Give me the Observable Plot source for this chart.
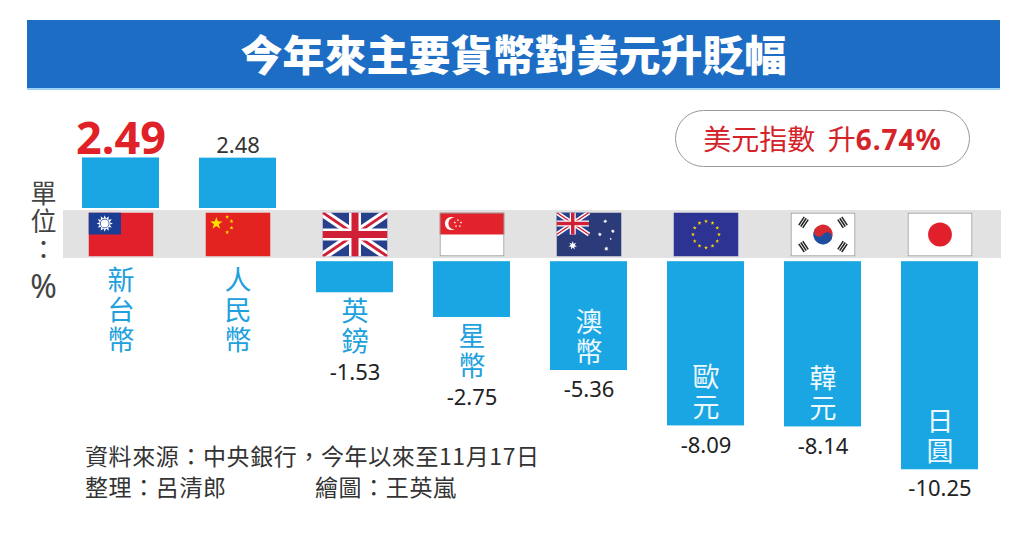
<!DOCTYPE html>
<html>
<head>
<meta charset="utf-8">
<script src="https://cdn.jsdelivr.net/npm/d3@7"></script>
<script src="https://cdn.jsdelivr.net/npm/@observablehq/plot@0.6"></script>
<style>
  body { margin: 0; background: #fff; font-family: "Noto Sans CJK TC", "Noto Sans", sans-serif; }
  #wrap { position: relative; width: 1024px; height: 543px; overflow: hidden; background: #fff; }
  #chart { position: absolute; left: 0; top: 0; }
  #title { position: absolute; left: 27px; top: 20px; width: 973px; height: 68px; background: #1c6dc3;
    color: #fff; font-size: 42px; font-weight: 900; text-align: center; line-height: 66px;
    border-bottom: 2px solid #9ad3f5; }
  #unit { position: absolute; left: 27px; top: 180px; width: 32px; color: #444; font-size: 26px;
    writing-mode: vertical-rl; text-orientation: upright; letter-spacing: 2px; line-height: 32px; }
  #unit .pct { font-size: 32px; font-family: "Noto Sans", sans-serif; letter-spacing: 0; }
  #badge { position: absolute; left: 675px; top: 110px; width: 293px; height: 55px; border: 1.5px solid #9a9a9a;
    border-radius: 29px; color: #d5232a; font-size: 28px; line-height: 55px; text-align: center; }
  #badge b { font-family: "Noto Sans", sans-serif; font-weight: 700; letter-spacing: 1px; }
  #note { position: absolute; left: 85px; top: 440px; color: #333; font-size: 23px; line-height: 31px; letter-spacing: 0.6px; }
  #note span.r { position: absolute; left: 230px; }
</style>
</head>
<body>
<div id="wrap">
  <div id="chart"></div>
  <div id="title">今年來主要貨幣對美元升貶幅</div>
  <div id="unit">單位：<span class="pct">%</span></div>
  <div id="badge">美元指數&nbsp;&nbsp;升<b>6.74%</b></div>
  <div id="note">資料來源：中央銀行，今年以來至11月17日<br>整理：呂清郎<span class="r">繪圖：王英嵐</span></div>
</div>
<script>
// ---- data ----
const currencies = ["新台幣", "人民幣", "英鎊", "星幣", "澳幣", "歐元", "韓元", "日圓"];
const changes = [2.49, 2.48, -1.53, -2.75, -5.36, -8.09, -8.14, -10.25];
const flagCodes = ["tw", "cn", "gb", "sg", "au", "eu", "kr", "jp"];
const highlight = "新台幣";

const data = currencies.map((name, i) => ({ name, v: changes[i], flag: flagCodes[i] }));

// ---- layout constants (value units of the y scale) ----
const BAND_TOP = -0.1, BAND_BOTTOM = -2.46, NEG_BASE = -2.62, FLAG_Y = -1.28;
const BAR = "#19a6e3", LABEL_BLUE = "#20a0dc";

// ---- flag drawings ----
function starPts(cx, cy, r, n = 5, ratio = 0.4, rot = -90) {
  const p = [];
  for (let k = 0; k < n * 2; k++) {
    const rr = k % 2 ? r * ratio : r;
    const a = (rot + k * 180 / n) * Math.PI / 180;
    p.push((cx + rr * Math.cos(a)).toFixed(2) + "," + (cy + rr * Math.sin(a)).toFixed(2));
  }
  return p.join(" ");
}
function star(cx, cy, r, fill, n = 5, ratio = 0.4) {
  return `<polygon points="${starPts(cx, cy, r, n, ratio)}" fill="${fill}"/>`;
}
const jack = `<rect width="60" height="40" fill="#27408b"/>
<path d="M0,0L60,40M60,0L0,40" stroke="#fff" stroke-width="8"/>
<path d="M0,0L60,40M60,0L0,40" stroke="#cf2038" stroke-width="2.6"/>
<path d="M30,0V40M0,20H60" stroke="#fff" stroke-width="11"/>
<path d="M30,0V40M0,20H60" stroke="#cf2038" stroke-width="6.5"/>`;
function trigram(x, y, rot) {
  let s = `<g transform="translate(${x},${y}) rotate(${rot})">`;
  for (let k = -1; k <= 1; k++) s += `<rect x="-4.5" y="${k * 2.2 - 0.7}" width="9" height="1.4" fill="#222"/>`;
  return s + "</g>";
}
const flags = {
  tw: () => `<rect width="60" height="40" fill="#e2202b"/><rect width="30" height="20" fill="#1b3d93"/>
    ${star(15, 10, 7.5, "#fff", 12, 0.62)}<circle cx="15" cy="10" r="4.3" fill="#1b3d93"/><circle cx="15" cy="10" r="3.6" fill="#fff"/>`,
  cn: () => `<rect width="60" height="40" fill="#e3231f"/>${star(10, 10, 6, "#ffde00")}
    ${star(20, 4, 2, "#ffde00")}${star(24, 8, 2, "#ffde00")}${star(24, 14, 2, "#ffde00")}${star(20, 18, 2, "#ffde00")}`,
  gb: () => jack,
  sg: () => `<rect width="60" height="40" fill="#fff"/><rect width="60" height="20" fill="#e2232b"/>
    <circle cx="11" cy="10" r="6" fill="#fff"/><circle cx="13.6" cy="10" r="5.4" fill="#e2232b"/>
    ${[0, 72, 144, 216, 288].map(a => star(17 + 3 * Math.cos((a - 90) * Math.PI / 180), 10 + 3 * Math.sin((a - 90) * Math.PI / 180), 1.2, "#fff")).join("")}
    <rect x="0.5" y="0.5" width="59" height="39" fill="none" stroke="#999" stroke-width="1"/>`,
  au: () => `<rect width="60" height="40" fill="#2b3a78"/><g transform="scale(0.5)">${jack}</g>
    ${star(15, 30, 4, "#fff", 7, 0.45)}${star(45, 8, 2, "#fff", 7, 0.45)}${star(52, 17, 2, "#fff", 7, 0.45)}
    ${star(40, 20, 2, "#fff", 7, 0.45)}${star(46, 33, 2.2, "#fff", 7, 0.45)}${star(50, 24, 1.2, "#fff", 5, 0.45)}`,
  eu: () => `<rect width="60" height="40" fill="#2d3393"/>
    ${d3.range(12).map(k => star(30 + 12 * Math.cos(k * Math.PI / 6), 20 + 12 * Math.sin(k * Math.PI / 6), 1.9, "#ffd700")).join("")}`,
  kr: () => `<rect width="60" height="40" fill="#fff"/>
    <g transform="translate(30,20) rotate(33.7)">
      <path d="M-9,0A9,9 0 0,1 9,0Z" fill="#d52a32"/><path d="M-9,0A9,9 0 0,0 9,0Z" fill="#1f4ea1"/>
      <circle cx="-4.5" cy="0" r="4.5" fill="#d52a32"/><circle cx="4.5" cy="0" r="4.5" fill="#1f4ea1"/>
    </g>
    ${trigram(12, 9, -56)}${trigram(48, 31, -56)}${trigram(48, 9, 56)}${trigram(12, 31, 56)}
    <rect x="0.5" y="0.5" width="59" height="39" fill="none" stroke="#999" stroke-width="1"/>`,
  jp: () => `<rect width="60" height="40" fill="#fff"/><circle cx="30" cy="20" r="11" fill="#e2202b"/>
    <rect x="0.5" y="0.5" width="59" height="39" fill="none" stroke="#999" stroke-width="1"/>`
};
function flagURI(code) {
  const svg = `<svg xmlns="http://www.w3.org/2000/svg" viewBox="0 0 60 40" width="60" height="40" preserveAspectRatio="none">${flags[code]()}</svg>`;
  return "data:image/svg+xml;charset=utf-8," + encodeURIComponent(svg);
}

const barEnd = d => d.v > 0 ? d.v : d.v + NEG_BASE;
const inside = d => d.v <= -5;
const cjk = "Noto Sans CJK TC";
const num = "Noto Sans";

const chart = Plot.plot({
  width: 1024,
  height: 543,
  marginLeft: 63,
  marginRight: 23,
  marginTop: 0,
  marginBottom: 0,
  style: { background: "none", fontFamily: cjk },
  x: { type: "band", domain: currencies, range: [39.5, 1020.5], padding: 0.345, axis: null },
  y: { domain: [0, -10], range: [208, 411], axis: null },
  marks: [
    Plot.rect([0], { y1: () => BAND_TOP, y2: () => BAND_BOTTOM, fill: "#e2e2e2" }),
    Plot.barY(data, { x: "name", y1: d => d.v > 0 ? 0 : NEG_BASE, y2: barEnd, fill: BAR }),
    Plot.image(data, { x: "name", y: () => FLAG_Y, src: d => flagURI(d.flag), width: 65, height: 44, preserveAspectRatio: "none" }),
    // category labels (set vertical below)
    Plot.text(data.filter(d => d.v > 0), { x: "name", y: () => NEG_BASE, text: "name",
      dy: -4, fontSize: 27, fill: LABEL_BLUE, fontFamily: cjk }),
    Plot.text(data.filter(d => d.v < 0 && !inside(d)), { x: "name", y: barEnd, text: "name",
      dy: -4, fontSize: 27, fill: LABEL_BLUE, fontFamily: cjk }),
    Plot.text(data.filter(inside), { x: "name", y: barEnd, text: "name",
      dy: -11, fontSize: 27, fill: "#eef9ff", fontFamily: cjk }),
    // value labels
    Plot.text(data.filter(d => d.name === highlight), { x: "name", y: "v", text: d => d.v.toFixed(2),
      lineAnchor: "bottom", dy: -4, fontSize: 45, fontWeight: 700, fill: "#e02228", fontFamily: num }),
    Plot.text(data.filter(d => d.v > 0 && d.name !== highlight), { x: "name", y: "v", text: d => d.v.toFixed(2),
      lineAnchor: "bottom", dy: -5, fontSize: 22, fill: "#333", fontFamily: num }),
    Plot.text(data.filter(d => d.v < 0 && !inside(d)), { x: "name", y: barEnd, text: d => d.v.toFixed(2),
      lineAnchor: "top", dy: 72, fontSize: 22, fill: "#222", fontFamily: num }),
    Plot.text(data.filter(inside), { x: "name", y: barEnd, text: d => d.v.toFixed(2),
      lineAnchor: "top", dy: 11, fontSize: 22, fill: "#222", fontFamily: num })
  ]
});

// make category names run top-to-bottom
const insideSet = new Set(data.filter(inside).map(d => d.name));
d3.select(chart).selectAll("text").each(function () {
  const t = this.textContent;
  if (!currencies.includes(t)) return;
  d3.select(this)
    .attr("dy", null)
    .style("writing-mode", "vertical-rl")
    .style("letter-spacing", "3px")
    .attr("text-anchor", insideSet.has(t) ? "end" : "start");
});
document.getElementById("chart").appendChild(chart);
</script>
</body>
</html>
